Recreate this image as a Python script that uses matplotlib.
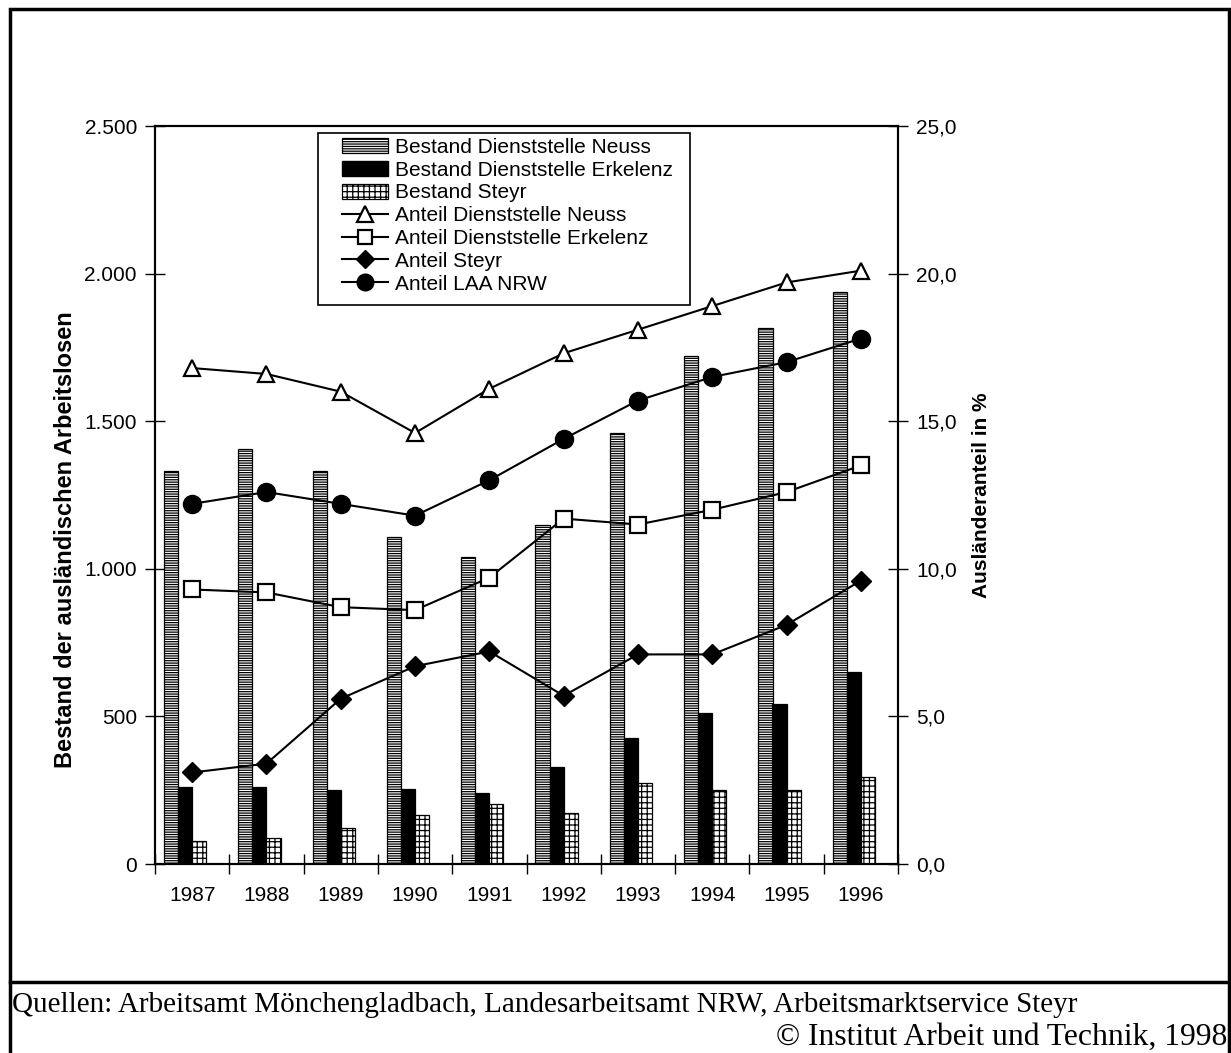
import numpy as np
import matplotlib
matplotlib.use("Agg")
import matplotlib.pyplot as plt
from matplotlib.patches import Rectangle, Patch
from matplotlib.lines import Line2D
from matplotlib.ticker import FuncFormatter

# data
years = ["1987", "1988", "1989", "1990", "1991", "1992", "1993", "1994", "1995", "1996"]
bestand_neuss = [1332, 1406, 1330, 1107, 1040, 1148, 1460, 1721, 1815, 1938]
bestand_erkelenz = [261, 261, 251, 254, 240, 329, 427, 511, 541, 650]
bestand_steyr = [78, 88, 122, 166, 203, 173, 274, 251, 251, 295]
anteil_neuss = [16.8, 16.6, 16.0, 14.6, 16.1, 17.3, 18.1, 18.9, 19.7, 20.1]
anteil_erkelenz = [9.3, 9.2, 8.7, 8.6, 9.7, 11.7, 11.5, 12.0, 12.6, 13.5]
anteil_steyr = [3.1, 3.4, 5.6, 6.7, 7.2, 5.7, 7.1, 7.1, 8.1, 9.6]
anteil_nrw = [12.2, 12.6, 12.2, 11.8, 13.0, 14.4, 15.7, 16.5, 17.0, 17.8]

plt.rcParams['font.family'] = ['Liberation Sans', 'DejaVu Sans']
plt.rcParams['hatch.linewidth'] = 0.9
FS = 15

fig = plt.figure(figsize=(12.31, 10.53), dpi=100)
W, H = 1231, 1053
ax = fig.add_axes([155 / W, 1 - 864 / H, (898 - 155) / W, (864 - 126) / H])
ax2 = ax.twinx()

x = np.arange(len(years))
bw = 0.19
ax.bar(x - 0.284, bestand_neuss, bw, color='white', edgecolor='black',
       hatch='-------', linewidth=0.9, zorder=2)
ax.bar(x - 0.095, bestand_erkelenz, bw, color='black', edgecolor='black',
       linewidth=0.9, zorder=2)
ax.bar(x + 0.095, bestand_steyr, bw, color='white', edgecolor='black',
       hatch='+++', linewidth=0.9, zorder=2)

ax.set_xlim(-0.5, len(years) - 0.5)
ax.set_ylim(0, 2500)
ax.set_yticks(range(0, 2501, 500))
ax.yaxis.set_major_formatter(FuncFormatter(lambda v, p: f"{int(v):,}".replace(",", ".")))
ax.set_xticks(x)
ax.set_xticklabels(years, fontsize=FS)
ax.set_xticks(np.arange(-0.5, len(years)), minor=True)
ax.tick_params(axis='x', which='major', length=0, pad=16)
ax.tick_params(axis='x', which='minor', direction='inout', length=14, width=1)
ax.tick_params(axis='y', direction='inout', length=14, width=1, labelsize=FS, pad=6)
ax.set_ylabel("Bestand der ausländischen Arbeitslosen", fontsize=17, fontweight='bold')
ax.yaxis.set_label_coords(-0.105, 0.439)

ms = 11
ax2.plot(x, anteil_neuss, color='black', lw=1.5, marker='^', ms=ms + 1,
         mfc='white', mec='black', mew=1.6, zorder=3)
ax2.plot(x, anteil_erkelenz, color='black', lw=1.5, marker='s', ms=ms,
         mfc='white', mec='black', mew=1.6, zorder=3)
ax2.plot(x, anteil_steyr, color='black', lw=1.5, marker='D', ms=ms - 1,
         mfc='black', mec='black', zorder=3)
ax2.plot(x, anteil_nrw, color='black', lw=1.5, marker='o', ms=ms + 2,
         mfc='black', mec='black', zorder=3)
ax2.set_ylim(0, 25)
ax2.set_yticks(np.arange(0, 25.1, 5))
ax2.yaxis.set_major_formatter(FuncFormatter(lambda v, p: f"{v:.1f}".replace(".", ",")))
ax2.tick_params(axis='y', direction='inout', length=14, width=1, labelsize=FS, pad=6)
ax2.set_ylabel("Ausländeranteil in %", fontsize=FS, fontweight='bold', labelpad=11)

for a in (ax, ax2):
    for s in a.spines.values():
        s.set_linewidth(1.5)

handles = [
    Patch(facecolor='white', edgecolor='black', hatch='-------', lw=0.9),
    Patch(facecolor='black', edgecolor='black'),
    Patch(facecolor='white', edgecolor='black', hatch='+++', lw=0.9),
    Line2D([], [], color='black', lw=1.5, marker='^', ms=ms, mfc='white', mew=1.6),
    Line2D([], [], color='black', lw=1.5, marker='s', ms=ms - 1, mfc='white', mew=1.6),
    Line2D([], [], color='black', lw=1.5, marker='D', ms=ms - 2, mfc='black'),
    Line2D([], [], color='black', lw=1.5, marker='o', ms=ms + 1, mfc='black'),
]
labels = ["Bestand Dienststelle Neuss", "Bestand Dienststelle Erkelenz", "Bestand Steyr",
          "Anteil Dienststelle Neuss", "Anteil Dienststelle Erkelenz", "Anteil Steyr",
          "Anteil LAA NRW"]
leg = fig.legend(handles, labels, loc='upper left', bbox_to_anchor=(342 / W, 1 - 138 / H),
                 bbox_transform=fig.transFigure, fontsize=FS, frameon=False,
                 borderpad=0, labelspacing=0.18, handlelength=2.2, handletextpad=0.35,
                 borderaxespad=0)
leg.set_zorder(5)
# legend frame
fig.patches.append(Rectangle((318 / W, 1 - 305 / H), (690 - 318) / W, (305 - 133) / H,
                             transform=fig.transFigure, facecolor='white',
                             edgecolor='black', lw=1.2, zorder=4))

# outer frame and footer
fig.patches.append(Rectangle((10 / W, -0.01), (1229 - 10) / W, 1.01 - 9 / H,
                             transform=fig.transFigure, fill=False, edgecolor='black', lw=2.5))
fig.lines.append(Line2D([10 / W, 1229 / W], [1 - 982 / H, 1 - 982 / H],
                        transform=fig.transFigure, color='black', lw=2.5))
fig.text(12 / W, 1 - 1005 / H, "Quellen: Arbeitsamt Mönchengladbach, Landesarbeitsamt NRW, Arbeitsmarktservice Steyr",
         family='Liberation Serif', fontsize=21, va='center', ha='left')
fig.text(1227 / W, 1 - 1037 / H, "© Institut Arbeit und Technik, 1998",
         family='Liberation Serif', fontsize=22.8, va='center', ha='right')

fig.savefig("out.png", dpi=100, facecolor='white')
